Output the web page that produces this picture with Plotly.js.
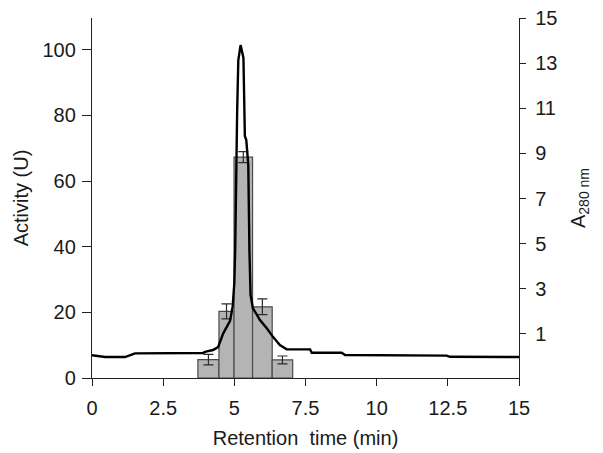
<!DOCTYPE html>
<html>
<head>
<meta charset="utf-8">
<script src="https://cdn.plot.ly/plotly-3.0.1.min.js"></script>
<style>html,body{margin:0;padding:0;background:#fff}#chart{width:603px;height:453px}</style>
</head>
<body>
<div id="chart"></div>
<script>
// Fractions (retention-time intervals, min) and enzyme activity (U)
var fractionStart = [3.72, 4.46, 4.99, 5.64, 6.33];
var fractionEnd   = [4.46, 4.99, 5.64, 6.33, 7.05];
var activity      = [5.6, 20.3, 67.3, 21.7, 5.5];
var activityErr   = [1.6, 2.3, 1.7, 2.4, 1.2];

// Absorbance trace A280 vs retention time
var timeMin = [0, 0.46, 1.16, 1.51, 3.90, 4.00, 4.25, 4.43, 4.61, 4.85, 4.94, 5.00, 5.03, 5.06, 5.10, 5.14, 5.22, 5.32, 5.36, 5.37, 5.42, 5.49, 5.53, 5.57, 5.65, 5.90, 6.14, 6.37, 6.60, 6.84, 7.66, 7.72, 8.77, 8.89, 12.46, 12.57, 15];
var a280    = [0.06, -0.02, -0.02, 0.14, 0.16, 0.22, 0.29, 0.42, 1.03, 1.58, 2.21, 3.25, 4.72, 7.82, 10.92, 13.14, 13.80, 13.23, 11.37, 9.77, 9.59, 8.49, 4.72, 2.73, 2.15, 1.62, 1.25, 0.85, 0.51, 0.32, 0.32, 0.17, 0.17, 0.07, 0.04, -0.01, -0.02];

var xTicks = [0, 2.5, 5, 7.5, 10, 12.5, 15];
var xTickText = ["0", "2.5", "5", "7.5", "10", "12.5", "15"];
var yTicks = [0, 20, 40, 60, 80, 100];
var y2Ticks = [1, 3, 5, 7, 9, 11, 13, 15];

var barCenters = fractionStart.map(function(s, i){ return (s + fractionEnd[i]) / 2; });
var barWidths = fractionStart.map(function(s, i){ return fractionEnd[i] - s; });

var fontFam = "Liberation Sans, Arial, sans-serif";
var txt = "#1a1a1a";
var fs = 20;

var traces = [
  {
    type: "bar",
    x: barCenters,
    y: activity,
    width: barWidths,
    marker: {color: "#b4b4b4", line: {color: "#4a4a4a", width: 1.2}},
    error_y: {type: "data", array: activityErr, visible: true, color: "#2a2a2a", thickness: 1.2, width: 5},
    yaxis: "y",
    hoverinfo: "skip",
    showlegend: false
  },
  {
    type: "scatter",
    mode: "lines",
    x: timeMin,
    y: a280,
    line: {color: "#000", width: 2.4},
    yaxis: "y2",
    hoverinfo: "skip",
    showlegend: false
  }
];

var layout = {
  width: 603,
  height: 453,
  margin: {l: 92, r: 84, t: 18, b: 75},
  paper_bgcolor: "#fff",
  plot_bgcolor: "#fff",
  font: {family: fontFam, size: fs, color: txt},
  showlegend: false,
  bargap: 0,
  xaxis: {
    range: [0, 15],
    tickvals: xTicks,
    ticktext: xTickText,
    ticks: "outside",
    ticklen: 7,
    tickwidth: 1,
    tickcolor: "#222",
    ticklabelstandoff: 5,
    showline: true,
    linecolor: "#222",
    linewidth: 1.2,
    showgrid: false,
    zeroline: false,
    tickfont: {size: fs, color: txt},
    title: {text: "Retention\u00A0 time (min)", font: {size: fs, color: txt}, standoff: 12}
  },
  yaxis: {
    range: [0, 109.7],
    tickvals: yTicks,
    ticks: "outside",
    ticklen: 9,
    tickwidth: 1,
    tickcolor: "#222",
    ticklabelstandoff: 2,
    showline: true,
    linecolor: "#222",
    linewidth: 1.2,
    showgrid: false,
    zeroline: false,
    tickfont: {size: fs, color: txt},
    title: {text: "Activity (U)", font: {size: fs, color: txt}, standoff: 8}
  },
  yaxis2: {
    overlaying: "y",
    side: "right",
    range: [-0.95, 15],
    tickvals: y2Ticks,
    ticks: "outside",
    ticklen: 6,
    tickwidth: 1,
    tickcolor: "#222",
    ticklabelstandoff: 5,
    showline: true,
    linecolor: "#222",
    linewidth: 1.2,
    showgrid: false,
    zeroline: false,
    tickfont: {size: fs, color: txt},
    title: {text: "A<sub>280 nm</sub>", font: {size: fs, color: txt}, standoff: 14}
  }
};

Plotly.newPlot("chart", traces, layout, {displayModeBar: false, staticPlot: true});
</script>
</body>
</html>
